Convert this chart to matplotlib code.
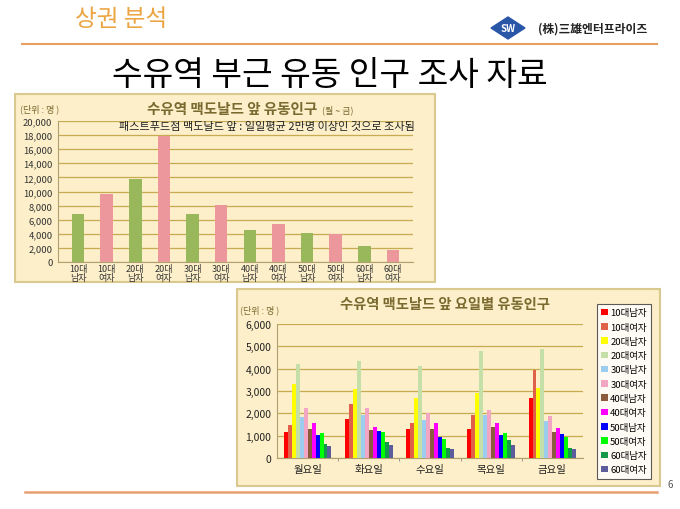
import matplotlib
matplotlib.use('Agg')
import matplotlib.pyplot as plt
from matplotlib.patches import Rectangle, Polygon
from matplotlib.ticker import FuncFormatter
import numpy as np

plt.rcParams['font.family'] = ['Noto Sans CJK KR', 'DejaVu Sans']

# 차트 1: 연령/성별 유동인구 (월~금)
groups1 = ['10대\n남자', '10대\n여자', '20대\n남자', '20대\n여자', '30대\n남자', '30대\n여자',
           '40대\n남자', '40대\n여자', '50대\n남자', '50대\n여자', '60대\n남자', '60대\n여자']
values1 = [6800, 9700, 11800, 17850, 6800, 8100, 4500, 5400, 4100, 3950, 2250, 1700]

# 차트 2: 요일별 유동인구
days = ['월요일', '화요일', '수요일', '목요일', '금요일']
series_names = ['10대남자', '10대여자', '20대남자', '20대여자', '30대남자', '30대여자',
                '40대남자', '40대여자', '50대남자', '50대여자', '60대남자', '60대여자']
m10 = [1150, 1760, 1300, 1300, 2680]
f10 = [1480, 2400, 1550, 1920, 3930]
m20 = [3300, 3100, 2700, 2900, 3120]
f20 = [4200, 4330, 4100, 4800, 4870]
m30 = [1830, 1920, 1690, 1920, 1670]
f30 = [2250, 2250, 2000, 2160, 1880]
m40 = [1320, 1270, 1320, 1380, 1150]
f40 = [1550, 1380, 1550, 1550, 1330]
m50 = [1050, 1230, 950, 1040, 1080]
f50 = [1100, 1150, 840, 1100, 920]
m60 = [640, 710, 470, 790, 470]
f60 = [520, 590, 400, 590, 400]
series = [m10, f10, m20, f20, m30, f30, m40, f40, m50, f50, m60, f60]

colors2 = ['#ff0000', '#e0604a', '#ffff00', '#c4e0a8', '#9cccee', '#f2a6c4',
           '#8c5a3c', '#ff00ff', '#0000ff', '#00ff00', '#14984a', '#5c5c9c']

panel_bg = '#fcefc9'
panel_edge = '#d9c98f'
grid_c = '#c8aa52'
comma = FuncFormatter(lambda v, p: '{:,.0f}'.format(v))

fig = plt.figure(figsize=(6.8, 5.1), dpi=100)
fig.patch.set_facecolor('white')

# 머리말
fig.text(75 / 680, 1 - 20 / 510, '상권 분석', fontsize=17, color='#eba440', va='center', ha='left')
fig.add_artist(plt.Line2D([22 / 680, 657 / 680], [1 - 45 / 510] * 2, color='#e8a060', lw=1.5))
dx, dy = 508 / 680, 1 - 29 / 510
fig.add_artist(Polygon([[dx - 17 / 680, dy], [dx, dy + 11 / 510], [dx + 17 / 680, dy], [dx, dy - 11 / 510]],
                       closed=True, color='#2a56a8', transform=fig.transFigure))
fig.text(dx, dy, 'SW', fontsize=7, color='white', fontweight='bold', ha='center', va='center')
fig.text(538 / 680, dy, '(株)三雄엔터프라이즈', fontsize=8.5, color='#222222', fontweight='bold',
         ha='left', va='center')
fig.text(330 / 680, 1 - 76 / 510, '수유역 부근 유동 인구 조사 자료', fontsize=24, color='black',
         ha='center', va='center')

# 꼬리말
fig.add_artist(plt.Line2D([25 / 680, 657 / 680], [1 - 493 / 510] * 2, color='#e8a070', lw=1.8))
fig.text(670 / 680, 1 - 485 / 510, '6', fontsize=7, color='#555555', ha='center', va='center')

# 패널 배경
for (x0, y0, x1, y1) in [(15, 95, 435, 283), (237, 290, 660, 487)]:
    fig.add_artist(Rectangle((x0 / 680, 1 - y1 / 510), (x1 - x0) / 680, (y1 - y0) / 510,
                             transform=fig.transFigure, facecolor=panel_bg, edgecolor=panel_edge,
                             lw=1.5, zorder=-5))

# ---- 차트 1 ----
ax1 = fig.add_axes([58 / 680, 1 - 263 / 510, 355 / 680, 141 / 510])
ax1.set_facecolor(panel_bg)
x1 = np.arange(len(groups1))
cols1 = ['#99b85c' if i % 2 == 0 else '#ec979b' for i in range(len(groups1))]
ax1.bar(x1, values1, width=0.44, color=cols1, zorder=3)
ax1.set_ylim(0, 20000)
ax1.set_yticks(np.arange(0, 20001, 2000))
ax1.yaxis.set_major_formatter(comma)
ax1.set_xlim(-0.7, len(groups1) - 0.3)
ax1.set_xticks(x1)
ax1.set_xticklabels(groups1, fontsize=6.5, linespacing=1.0)
ax1.tick_params(axis='y', length=0, labelsize=6.8, colors='#333333', pad=4)
ax1.tick_params(axis='x', length=0, labelsize=6.5, colors='#333333', pad=1.5)
ax1.grid(axis='y', color=grid_c, lw=0.9, zorder=0)
for s in ['top', 'right']:
    ax1.spines[s].set_visible(False)
ax1.spines['left'].set_color('#b0a070')
ax1.spines['bottom'].set_color('#b0a070')

fig.text(232 / 680, 1 - 109 / 510, '수유역 맥도날드 앞 유동인구', fontsize=10.5, fontweight='bold',
         color='#7a6a30', ha='center', va='center')
fig.text(322 / 680, 1 - 110 / 510, '(월 ~ 금)', fontsize=6.5, color='#7a6a30', ha='left', va='center')
fig.text(20 / 680, 1 - 109 / 510, '(단위 : 명 )', fontsize=6.5, color='#7a6a30', ha='left', va='center')
fig.text(415 / 680, 1 - 127 / 510, '패스트푸드점 맥도날드 앞 : 일일평균 2만명 이상인 것으로 조사됨',
         fontsize=8, color='#222222', ha='right', va='center')

# ---- 차트 2 ----
ax2 = fig.add_axes([277 / 680, 1 - 459 / 510, 306 / 680, 134 / 510])
ax2.set_facecolor(panel_bg)
xd = np.arange(len(days))
bw = 0.065
n = len(series)
handles = []
for i, (vals, c, name) in enumerate(zip(series, colors2, series_names)):
    h = ax2.bar(xd + (i - (n - 1) / 2) * bw, vals, width=bw, color=c, zorder=3, label=name)
    handles.append(h)
ax2.set_ylim(0, 6000)
ax2.set_yticks(np.arange(0, 6001, 1000))
ax2.yaxis.set_major_formatter(comma)
ax2.set_xlim(-0.5, len(days) - 0.5)
ax2.set_xticks(xd)
ax2.set_xticklabels(days, fontsize=7.5)
ax2.set_xticks(np.arange(0.5, len(days) - 0.5, 1), minor=True)
ax2.tick_params(axis='both', which='major', length=0, labelsize=7.5, colors='#222222', pad=4)
ax2.tick_params(axis='x', which='minor', length=2, color='#888888')
ax2.grid(axis='y', color=grid_c, lw=0.9, zorder=0)
for s in ['top', 'right']:
    ax2.spines[s].set_visible(False)
ax2.spines['left'].set_color('#b0a070')
ax2.spines['bottom'].set_color('#b0a070')

fig.text(445 / 680, 1 - 305 / 510, '수유역 맥도날드 앞 요일별 유동인구', fontsize=10.3, fontweight='bold',
         color='#7a6a30', ha='center', va='center')
fig.text(240 / 680, 1 - 310 / 510, '(단위 : 명 )', fontsize=6.5, color='#7a6a30', ha='left', va='center')

leg = fig.legend(handles, series_names, loc='upper left', bbox_to_anchor=(597 / 680, 1 - 305 / 510),
                 fontsize=6.8, frameon=True, fancybox=False, edgecolor='#333333', facecolor='white',
                 handlelength=0.7, handleheight=0.7, handletextpad=0.25, labelspacing=0.56,
                 borderpad=0.45, borderaxespad=0)
leg.get_frame().set_linewidth(0.8)

fig.savefig('out.png', dpi=100)
